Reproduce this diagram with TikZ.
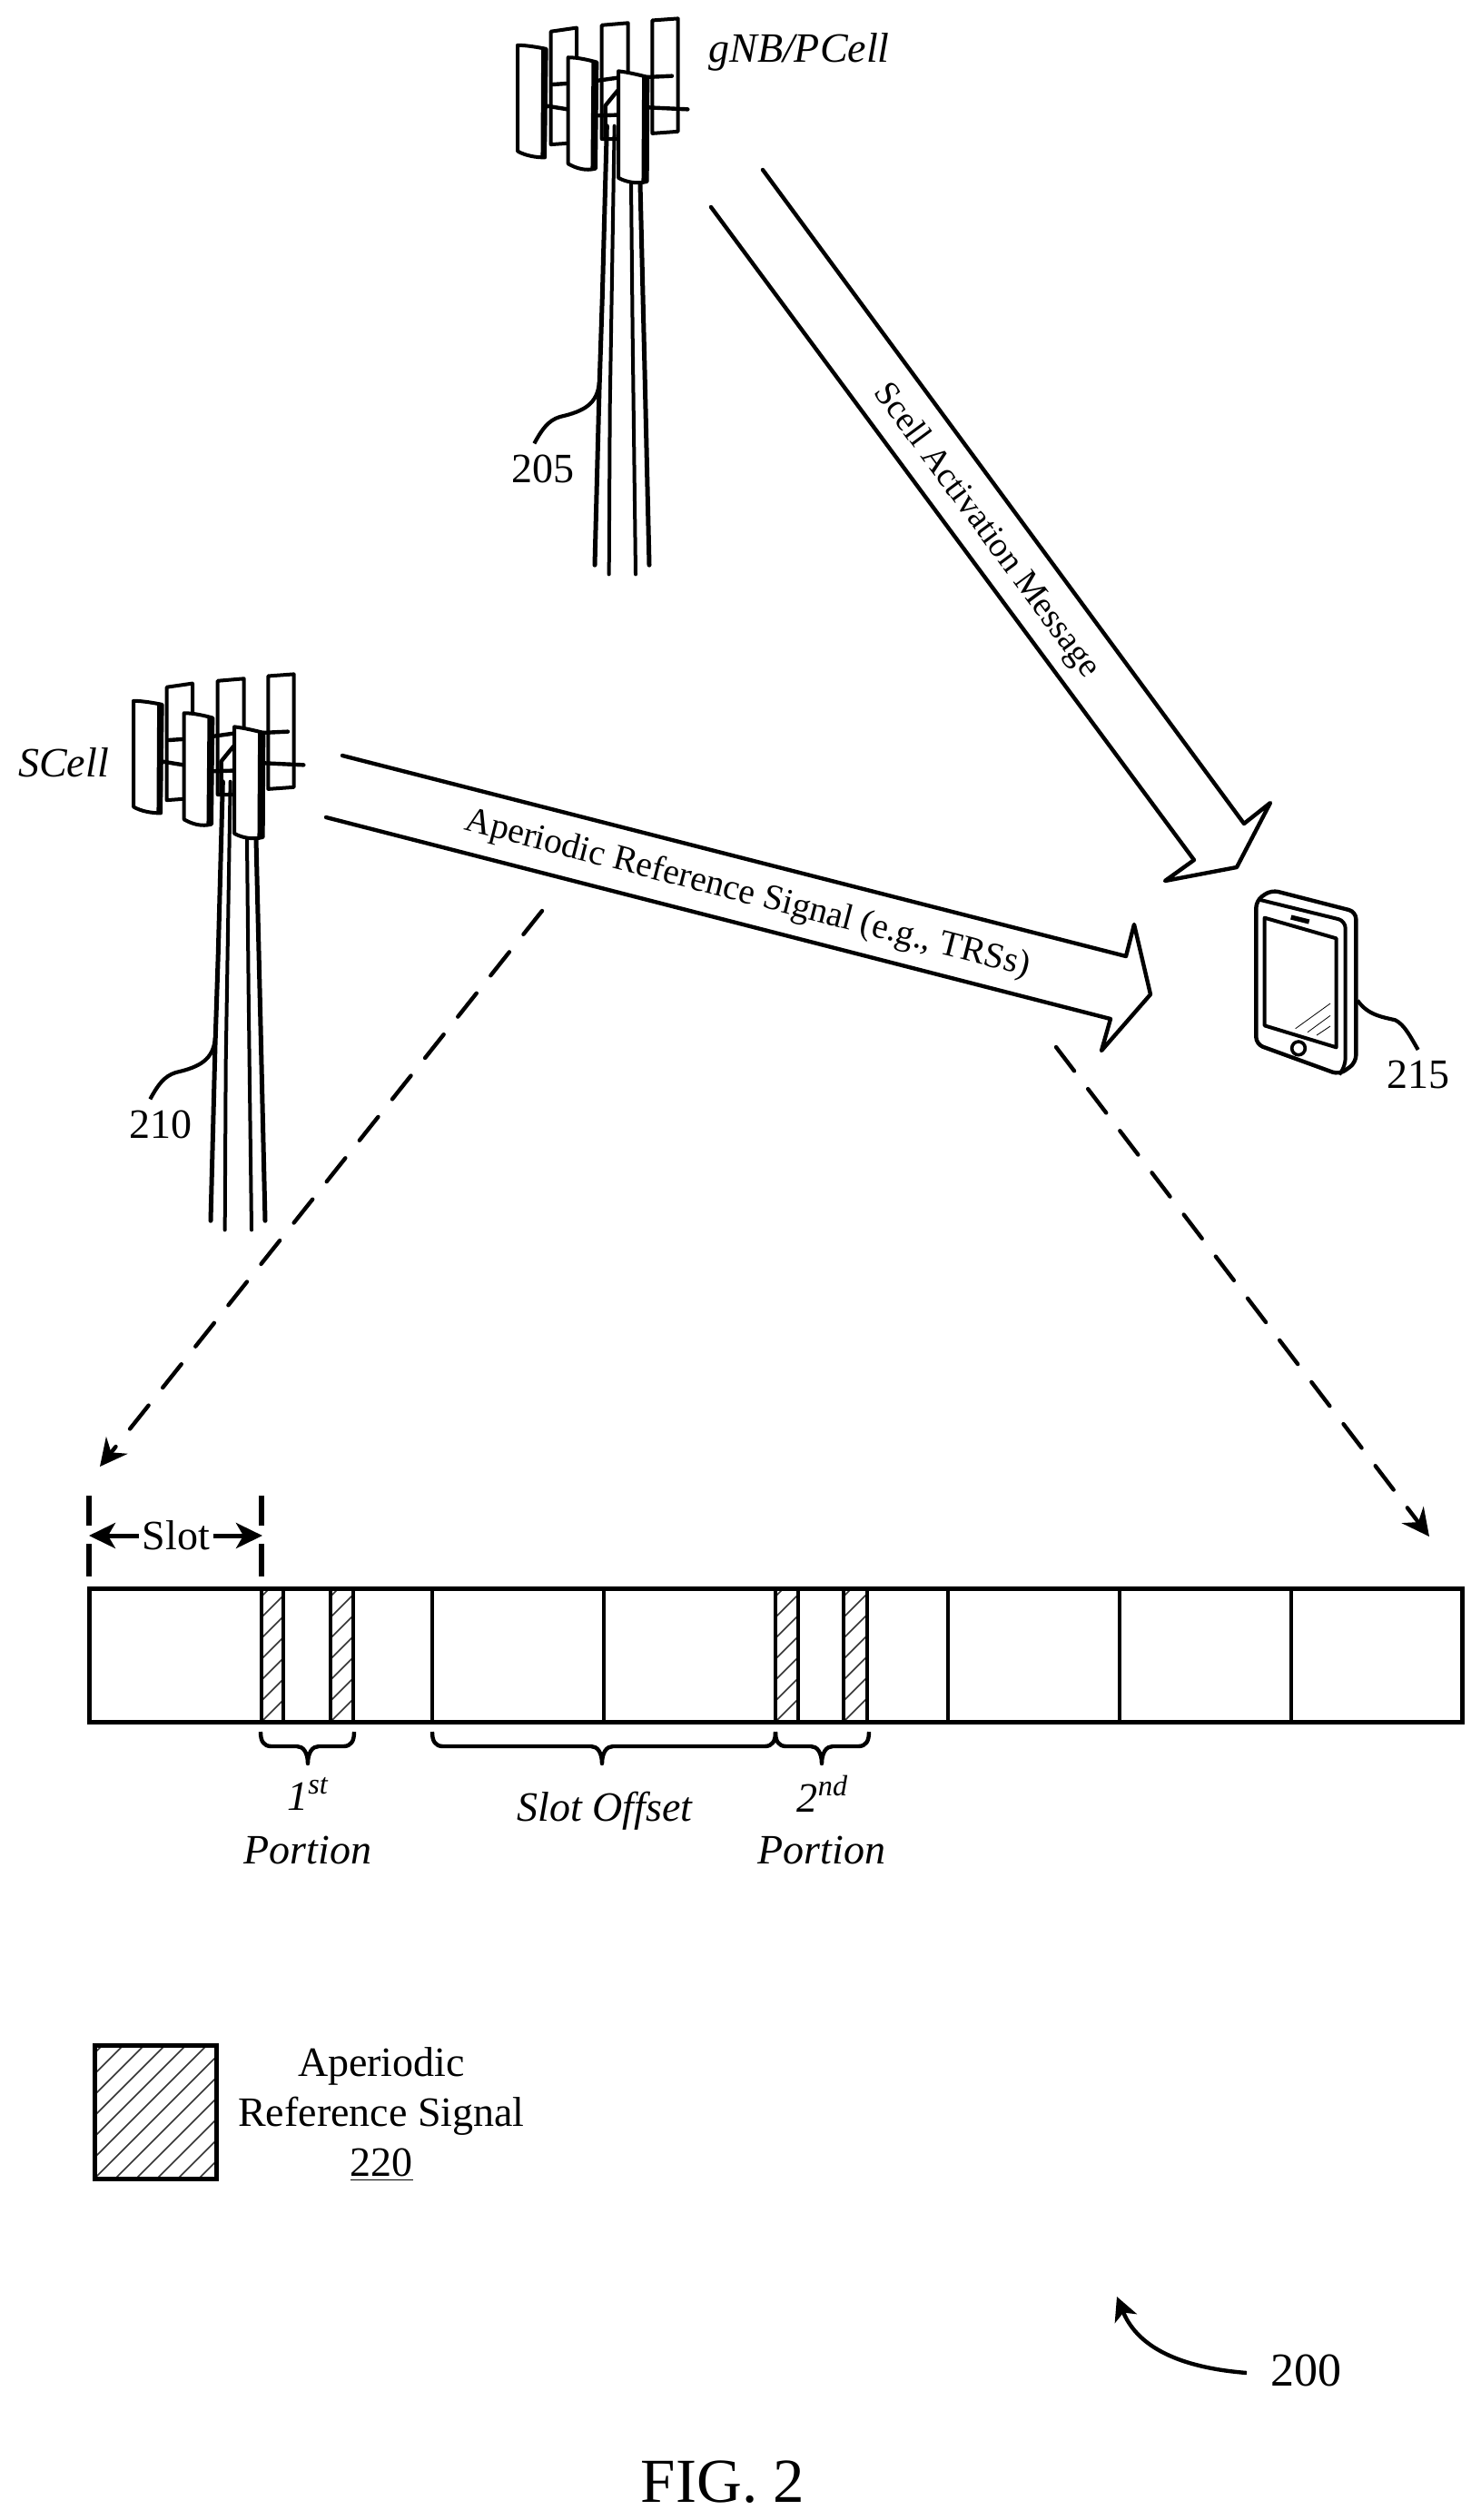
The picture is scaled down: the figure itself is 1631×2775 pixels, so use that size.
\documentclass[tikz,border=0pt]{standalone}
\usepackage{fontspec}
\setmainfont{Liberation Serif}
\usetikzlibrary{arrows.meta}
\newcommand{\fs}[1]{\fontsize{#1}{27.5}\selectfont}
\tikzset{
 ln/.style={line width=2.2pt,line join=round,line cap=round},
 thick line/.style={line width=2.5pt,line join=round,line cap=round},
 thin line/.style={line width=2pt,line join=round,line cap=round},
 ant/.style={line width=2pt,line join=round,fill=white},
 lab/.style={font=\fs{23},inner sep=0pt},
 ital/.style={font=\fs{23}\itshape,inner sep=0pt},
 msg/.style={inner sep=0pt},
 dashline/.style={line width=2.2pt,line cap=round,dash pattern=on 16.5pt off 12.5pt,-{Stealth[length=15pt,width=15pt,inset=5pt]}},
 hatchline/.style={line width=.8pt,black!80},
 barline/.style={line width=2.5pt},
 divline/.style={line width=2.2pt},
 brace line/.style={line width=2.2pt,line join=round},
 slotarrow/.style={line width=2.5pt,-{Stealth[length=14.5pt,width=14pt,inset=4pt]}},
 tick line/.style={line width=2.7pt},
}
\newcommand{\towerdraw}[3]{%
 \begin{scope}[shift={(#1,#2)}]\begin{scope}[x=.16667pt,y=-.204pt]
  \draw[ant] (260,85)--(345,75)--(345,160)--(345,385)--(260,390)--cycle;
  \draw[ant] (428,68)--(515,62)--(515,200)--(480,375)--(428,375)--cycle;
  \draw[ant] (595,55)--(680,50)--(680,355)--(595,360)--cycle;
  \draw[ln] (265,228)--(320,225) (240,285)--(315,295) (410,218)--(480,210) (580,208)--(660,205)
            (580,290)--(712,295) (410,312)--(490,310) (440,285)--(480,245) (440,285)--(440,375);
  \draw[thick line] (445,340)--(430,800)--(420,1050)--(405,1525);
  \draw[thin line] (470,340)--(455,1100)--(452,1550);
  \draw[thin line] (525,495)--(530,900)--(540,1550);
  \draw[thick line] (555,495)--(570,1000)--(585,1525);
  \draw[ant] (150,122) .. controls (180,122) and (220,128) .. (245,132)--(240,425) .. controls (210,425) and (175,420) .. (150,408)--cycle;
  \draw[ant] (317,155) .. controls (350,155) and (385,162) .. (412,168)--(408,455) .. controls (375,462) and (345,455) .. (317,442)--cycle;
  \draw[ant] (483,192) .. controls (515,195) and (550,202) .. (580,208)--(578,490) .. controls (545,497) and (510,492) .. (483,480)--cycle;
  \draw[line width=3.2pt] (238,135)--(236,422) (404,168)--(401,455) (571,207)--(569,490);
  \coordinate (#3a) at (420,1030);
  \coordinate (#3b) at (205,1197);
  \draw[line width=2.1pt,line cap=butt] (#3a) .. controls (415,1090) and (370,1110) .. (290,1125) .. controls (250,1135) and (230,1160) .. (#3b);
 \end{scope}\end{scope}}
\newcommand{\hatchbox}[4]{%
 \begin{scope}
  \clip (#1,#2) rectangle (#3,#4);
  \foreach \k in {-14,...,14}{\draw[hatchline] (#1+\k*23,#4)--++(175,-175);}
 \end{scope}}
\newcommand{\bracedraw}[4]{% x1, tip, x2, name
 \coordinate (#4) at (#2,1942);
 \draw[brace line] (#1,1907) .. controls (#1,1917) and (#1+3,1923) .. (#1+12,1923) -- (#2-12,1923) .. controls (#2-5,1923) and (#2,1930) .. (#4) .. controls (#2,1930) and (#2+5,1923) .. (#2+12,1923) -- (#3-12,1923) .. controls (#3-3,1923) and (#3,1917) .. (#3,1907);}
\begin{document}
\begin{tikzpicture}[x=.5pt,y=-.5pt]
\useasboundingbox (0,0) rectangle (1631,2775);
% towers
\towerdraw{520}{0}{tp}
\towerdraw{97}{722}{ts}
\node[ital,anchor=center] (gnb) at (880,57) {gNB/PCell};
\node[lab] (n205) at (598,516) {205};
\node[ital] (scell) at (70,840) {SCell};
\node[lab] (n210) at (177,1238) {210};
% big arrow 1
\coordinate (aa) at (840,187);
\coordinate (ab) at (1370,907);
\coordinate (ac) at (1399,884);
\coordinate (ad) at (1362,955);
\coordinate (ae) at (1283,970);
\coordinate (af) at (1315,947);
\coordinate (ag) at (783,228);
\draw[ln] (aa)--(ab)--(ac)--(ad)--(ae)--(af)--(ag);
\node[msg,font=\fs{19.2},rotate=-53.5] (m1) at (1086,585) {Scell Activation Message};
% big arrow 2
\coordinate (ba) at (377,832);
\coordinate (bb) at (1240,1053);
\coordinate (bc) at (1249,1018);
\coordinate (bd) at (1267,1095);
\coordinate (be) at (1213,1157);
\coordinate (bf) at (1223,1122);
\coordinate (bg) at (359,900);
\draw[ln] (ba)--(bb)--(bc)--(bd)--(be)--(bf)--(bg);
\node[msg,font=\fs{19.8},rotate=-14.6] (m2) at (823,985) {Aperiodic Reference Signal (e.g., TRSs)};
% phone
\begin{scope}[shift={(1160,820)}]\begin{scope}[x=.16667pt,y=-.16667pt]
 \draw[ln,rounded corners=4pt] (670,515)--(720,480)--(1000,552)--(1000,1050)--(945,1090)--(670,990)--cycle;
 \draw[line width=2pt,rounded corners=4pt] (680,512)--(965,582)--(965,1060)--(945,1090);
 \draw[line width=2pt,line join=round] (698,572)--(935,640)--(935,1000)--(698,928)--cycle;
 \draw[line width=2.6pt] (785,570)--(845,585);
 \draw[line width=1.8pt] (810,1003) circle [radius=22];
 \draw[line width=.4pt] (800,938)--(915,855) (840,950)--(915,895) (870,960)--(915,930);
 \coordinate (pa) at (1005,845);
 \coordinate (pb) at (1205,1008);
 \draw[line width=2.1pt] (pa) .. controls (1040,895) and (1090,900) .. (1130,910) .. controls (1160,925) and (1180,965) .. (pb);
\end{scope}\end{scope}
\node[lab] (n215) at (1562,1183) {215};
% dashed arrows
\coordinate (da) at (597,1003);
\coordinate (db) at (110,1615);
\coordinate (dc) at (1163,1153);
\coordinate (dd) at (1574,1692);
\draw[dashline] (da)--(db);
\draw[dashline] (dc)--(dd);
% slot marker
\coordinate (s1a) at (98,1647);\coordinate (s1b) at (98,1680);\coordinate (s1c) at (98,1700);\coordinate (s1d) at (98,1736);
\coordinate (s2a) at (288,1647);\coordinate (s2b) at (288,1680);\coordinate (s2c) at (288,1700);\coordinate (s2d) at (288,1736);
\draw[tick line] (s1a)--(s1b) (s1c)--(s1d) (s2a)--(s2b) (s2c)--(s2d);
\node[lab,inner xsep=2pt] (slot) at (194,1691) {Slot};
\coordinate (sl) at (98,1691);\coordinate (sr) at (289,1691);
\draw[slotarrow] (slot.west)--(sl);
\draw[slotarrow] (slot.east)--(sr);
% bar
\hatchbox{288}{1749}{312}{1896}
\hatchbox{364}{1749}{389}{1896}
\hatchbox{854}{1749}{879}{1896}
\hatchbox{929}{1749}{955}{1896}
\foreach \x in {288,312,364,389,476,665,854,879,929,955,1044,1233,1422}{\draw[divline] (\x,1749)--(\x,1896);}
\draw[barline] (98,1749) rectangle (1610,1896);
% braces
\bracedraw{287}{339}{390}{br1}
\bracedraw{476}{663}{854}{br2}
\bracedraw{854}{905}{957}{br3}
\node[ital] (first) at (339,1975) {1\textsuperscript{st}};
\node[ital] (por1) at (339,2037) {Portion};
\node[ital] (off) at (666,1994) {Slot Offset};
\node[ital] (second) at (906,1975) {2\textsuperscript{nd}};
\node[ital] (por2) at (905,2037) {Portion};
% legend
\hatchbox{104}{2252}{238.5}{2399}
\draw[barline] (104,2252) rectangle (238.5,2399);
\node[lab,align=center] (leg) at (420,2328) {Aperiodic\\Reference Signal\\\underline{220}};
% 200
\node[font=\fs{26},inner sep=0pt] (n200) at (1438,2610) {200};
\coordinate (la) at (1373,2613);
\coordinate (lb) at (1230,2529);
\draw[line width=2.2pt,-{Stealth[length=13pt,width=13pt,inset=3.5pt]}] (la) .. controls (1310,2608) and (1255,2590) .. (lb);
\node[font=\fs{34.5},inner sep=0pt] (fig) at (796,2733) {FIG. 2};
\end{tikzpicture}
\end{document}
